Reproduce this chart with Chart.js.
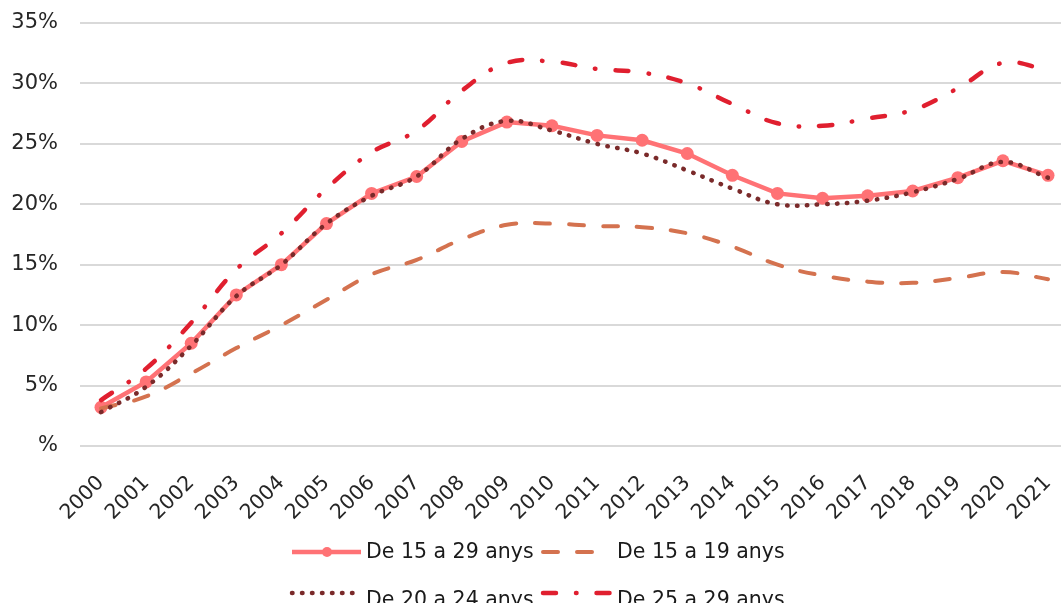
<!DOCTYPE html>
<html>
<head>
<meta charset="utf-8">
<script src="https://cdn.jsdelivr.net/npm/chart.js@4"></script>
<style>
  html, body { margin: 0; padding: 0; background: #fff; }
  canvas { display: block; }
</style>
</head>
<body>
<canvas id="chart" width="1061" height="603"></canvas>
<script>
// Years on the x axis
const years = [2000, 2001, 2002, 2003, 2004, 2005, 2006, 2007, 2008, 2009, 2010,
  2011, 2012, 2013, 2014, 2015, 2016, 2017, 2018, 2019, 2020, 2021];

// Series values (%)
const age15to29 = [3.2, 5.3, 8.5, 12.5, 15.0, 18.4, 20.9, 22.3, 25.2, 26.8, 26.5,
  25.7, 25.3, 24.2, 22.4, 20.9, 20.5, 20.7, 21.1, 22.2, 23.6, 22.4];
const age15to19 = [3.1, 4.1, 6.0, 8.1, 10.0, 12.1, 14.2, 15.4, 17.1, 18.3, 18.4,
  18.2, 18.1, 17.6, 16.5, 15.0, 14.1, 13.6, 13.5, 13.9, 14.4, 13.8];
const age20to24 = [2.8, 4.9, 8.3, 12.4, 15.0, 18.4, 20.7, 22.3, 25.4, 26.9, 26.1,
  25.0, 24.2, 22.8, 21.3, 20.0, 20.0, 20.3, 21.0, 22.1, 23.5, 22.2];
const age25to29 = [3.8, 6.4, 10.2, 14.6, 17.6, 21.3, 24.3, 26.1, 29.4, 31.7, 31.8,
  31.2, 30.9, 30.0, 28.3, 26.7, 26.5, 27.1, 27.8, 29.6, 31.7, 31.1];

const seriesLabels = ['De 15 a 29 anys', 'De 15 a 19 anys', 'De 20 a 24 anys', 'De 25 a 29 anys'];

// y ticks: 0..35 step 5
const yTicks = [0, 5, 10, 15, 20, 25, 30, 35];

const toPoints = (arr) => years.map((yr, i) => ({ x: yr, y: arr[i] }));

Chart.defaults.font.family = "'DejaVu Sans', Verdana, sans-serif";
Chart.defaults.font.size = 20;
Chart.defaults.color = '#262626';

// Legend drawn as a two-column grid like the original
const gridLegend = {
  id: 'gridLegend',
  afterDraw(chart) {
    const ctx = chart.ctx;
    const cols = [292, 543];
    const lineY = [552, 593];
    const textY = [558, 606];
    const sampleLen = [69, 52, 62, 69];
    chart.data.datasets.forEach((ds, i) => {
      const col = i % 2, row = Math.floor(i / 2);
      const x = cols[col];
      ctx.save();
      ctx.strokeStyle = ds.borderColor;
      ctx.lineWidth = ds.borderWidth;
      ctx.lineCap = ds.borderCapStyle || 'butt';
      ctx.setLineDash(ds.borderDash || []);
      ctx.beginPath();
      ctx.moveTo(x, lineY[row]);
      ctx.lineTo(x + sampleLen[i], lineY[row]);
      ctx.stroke();
      if (ds.pointRadius > 0) {
        ctx.setLineDash([]);
        ctx.fillStyle = ds.pointBackgroundColor;
        ctx.beginPath();
        ctx.arc(x + 35, lineY[row], 5, 0, Math.PI * 2);
        ctx.fill();
      }
      ctx.fillStyle = '#1a1a1a';
      ctx.font = "20.5px 'DejaVu Sans', Verdana, sans-serif";
      ctx.textBaseline = 'alphabetic';
      ctx.textAlign = 'left';
      ctx.fillText(ds.label, x + 74, textY[row]);
      ctx.restore();
    });
  }
};

new Chart(document.getElementById('chart'), {
  type: 'line',
  data: {
    datasets: [
      {
        label: seriesLabels[0],
        data: toPoints(age15to29),
        borderColor: '#ff7275',
        backgroundColor: '#ff7275',
        pointBackgroundColor: '#ff7275',
        pointBorderWidth: 0,
        pointRadius: 6.5,
        borderWidth: 4.5,
        tension: 0,
        order: 4
      },
      {
        label: seriesLabels[1],
        data: toPoints(age15to19),
        borderColor: '#d4724f',
        borderWidth: 4,
        borderDash: [15, 19],
        borderCapStyle: 'round',
        pointRadius: 0,
        tension: 0.4,
        order: 3
      },
      {
        label: seriesLabels[2],
        data: toPoints(age20to24),
        borderColor: '#7a2a2a',
        borderWidth: 4.5,
        borderDash: [0.5, 9.5],
        borderCapStyle: 'round',
        pointRadius: 0,
        tension: 0.4,
        order: 1
      },
      {
        label: seriesLabels[3],
        data: toPoints(age25to29),
        borderColor: '#e01f2f',
        borderWidth: 4.5,
        borderDash: [13, 20, 0.5, 20],
        borderCapStyle: 'round',
        pointRadius: 0,
        tension: 0.4,
        order: 2
      }
    ]
  },
  options: {
    responsive: false,
    devicePixelRatio: 1,
    animation: false,
    layout: { autoPadding: false, padding: { top: 23, right: 0, bottom: 27, left: 0 } },
    scales: {
      x: {
        type: 'linear',
        bounds: 'data',
        min: 1999.534,
        max: 2021.288,
        afterBuildTicks: (scale) => { scale.ticks = years.map(v => ({ value: v })); },
        afterFit: (scale) => {
          scale.height = 130;
          scale.paddingLeft = 0;
          scale.paddingRight = 0;
        },
        grid: { display: false },
        border: { display: false },
        ticks: {
          autoSkip: false,
          minRotation: 45,
          maxRotation: 45,
          padding: 17,
          font: { size: 20.5 },
          callback: (v) => String(v)
        }
      },
      y: {
        bounds: 'data',
        min: 0,
        max: 35,
        afterBuildTicks: (scale) => { scale.ticks = yTicks.map(v => ({ value: v })); },
        afterFit: (scale) => {
          scale.width = 80;
          scale.paddingTop = 0;
          scale.paddingBottom = 0;
        },
        grid: { color: '#d9d9d9', lineWidth: 2, drawTicks: false },
        border: { display: false },
        ticks: {
          padding: 22,
          font: { size: 21 },
          callback: (v) => (v === 0 ? '%' : v + '%')
        }
      }
    },
    plugins: {
      legend: { display: false },
      tooltip: { enabled: false }
    }
  },
  plugins: [gridLegend]
});
</script>
</body>
</html>
